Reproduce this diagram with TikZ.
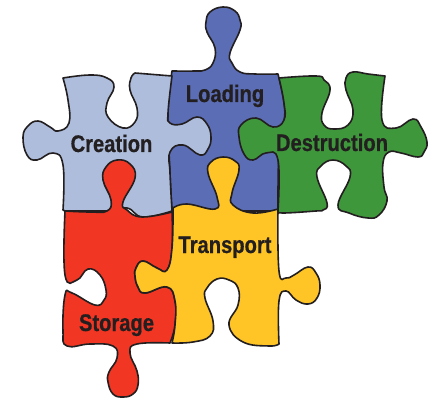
\documentclass[tikz,border=0pt]{standalone}
\usepackage{fontspec}
\newfontfamily\pzfont[FakeStretch=0.84,BoldFeatures={FakeBold=0.6}]{Liberation Sans}
\definecolor{pzcreation}{HTML}{AEBDDB}
\definecolor{pzloading}{HTML}{5B6DB5}
\definecolor{pzdestruction}{HTML}{3F973B}
\definecolor{pztransport}{HTML}{FFC425}
\definecolor{pzstorage}{HTML}{F13623}
\definecolor{pzink}{HTML}{231F20}
\tikzset{
  piece/.style={draw=pzink,line width=1.6pt,line join=round},
  sm/.style={smooth,tension=0.75},
  pzlabel/.style={anchor=base,inner sep=0pt,text=pzink,font=\pzfont\fontsize{24}{24}\selectfont\bfseries}
}
\begin{document}
\begin{tikzpicture}[x=1pt,y=-1pt]
\useasboundingbox (0,0) rectangle (433,398);
% Loading
\path[piece,fill=pzloading]
  plot[sm] coordinates {(172,71)(195,71)(205,70)(213,63)(215,48)(207,32)(206,22)(210,12)(223,7)(235,11)(240,20)(240,30)(230,53)(232,63)(240,72)(255,74)(278,74)}
  -- plot[sm] coordinates {(278,74)(284,103)(284,122)(279,150)(278,211)}
  -- (172,211)
  -- plot[sm] coordinates {(172,211)(170,173)(168,113)(172,71)} -- cycle;
% Creation
\path[piece,fill=pzcreation]
  plot[sm] coordinates {(63,78)(90,75)(107,78)(114,87)(107,103)(108,117)(123,128)(135,122)(137,108)(130,90)(131,78)(135,73)}
  -- (172,76)
  -- plot[sm] coordinates {(172,76)(168,113)(170,123)(182,124)(197,117)(207,124)(211,137)(208,149)(200,155)(183,145)(170,152)(170,173)(172,211)}
  -- plot[sm] coordinates {(172,211)(143,217)(127,208)(107,211)}
  -- (65,211)
  -- plot[sm] coordinates {(63,210)(63,165)(53,153)(37,160)(27,155)(23,137)(28,126)(38,121)(50,127)(58,131)(69,123)(68,100)(63,78)} -- cycle;
% Destruction
\path[piece,fill=pzdestruction]
  plot[sm] coordinates {(279,78)(316,76)(324,80)(330,90)(322,113)(324,125)(334,129)(348,125)(353,110)(346,90)(346,78)(353,72)(368,74)(385,76)}
  -- plot[sm] coordinates {(385,76)(382,120)(396,128)(413,119)(421,127)(427,142)(424,152)(418,157)(401,153)(389,152)(383,163)(384,187)(387,201)(379,215)(368,218)(349,213)(338,205)(350,177)(346,166)(333,160)(321,166)(317,177)(327,203)(323,210)(316,211)(283,213)(278,211)}
  -- plot[sm] coordinates {(278,211)(278,160)(266,153)(253,160)(244,154)(239,137)(241,125)(256,118)(273,127)(284,120)(284,103)(279,78)} -- cycle;
% Storage
\path[piece,fill=pzstorage]
  plot[sm] coordinates {(65,211)(90,212)(107,211)(111,200)(103,180)(106,167)(117,160)(130,164)(135,178)(123,202)(127,210)(142,217)(172,212)}
  -- plot[sm] coordinates {(172,212)(172,248)(167,270)(157,268)(143,261)(136,268)(135,276)(138,287)(145,293)(167,287)(175,301)(175,325)(170,343)}
  -- plot[sm] coordinates {(170,343)(137,344)(130,353)(137,371)(138,385)(133,394)(123,397)(113,394)(108,382)(109,372)(117,358)(113,346)(90,344)(67,346)(63,331)(65,295)(72,293)(95,305)(104,300)(106,290)(100,275)(88,269)(77,280)(65,275)(65,211)} -- cycle;
% Transport
\path[piece,fill=pztransport]
  plot[sm] coordinates {(173,208)(187,204)(215,209)(217,197)(208,173)(211,162)(223,157)(235,161)(239,170)(232,193)(233,205)(253,213)(278,209)}
  -- plot[sm] coordinates {(278,209)(279,271)(286,278)(294,275)(308,267)(316,273)(320,285)(317,298)(308,304)(296,300)(286,291)(279,301)(279,344)}
  -- plot[sm] coordinates {(279,344)(269,346)(243,342)(229,325)(238,305)(238,288)(229,280)(217,279)(207,288)(205,298)(213,321)(210,336)(193,342)(172,343)}
  -- plot[sm] coordinates {(172,343)(175,325)(175,301)(167,287)(145,293)(138,287)(135,276)(136,268)(143,261)(157,268)(167,270)(172,248)(173,208)} -- cycle;
% Labels
\node[pzlabel] (creation) at (111.5,152) {Creation};
\node[pzlabel] (loading) at (225,102) {Loading};
\node[pzlabel] (destruction) at (332,151) {Destruction};
\node[pzlabel] (transport) at (225,253) {Transport};
\node[pzlabel] (storage) at (116.5,331) {Storage};
\end{tikzpicture}
\end{document}
